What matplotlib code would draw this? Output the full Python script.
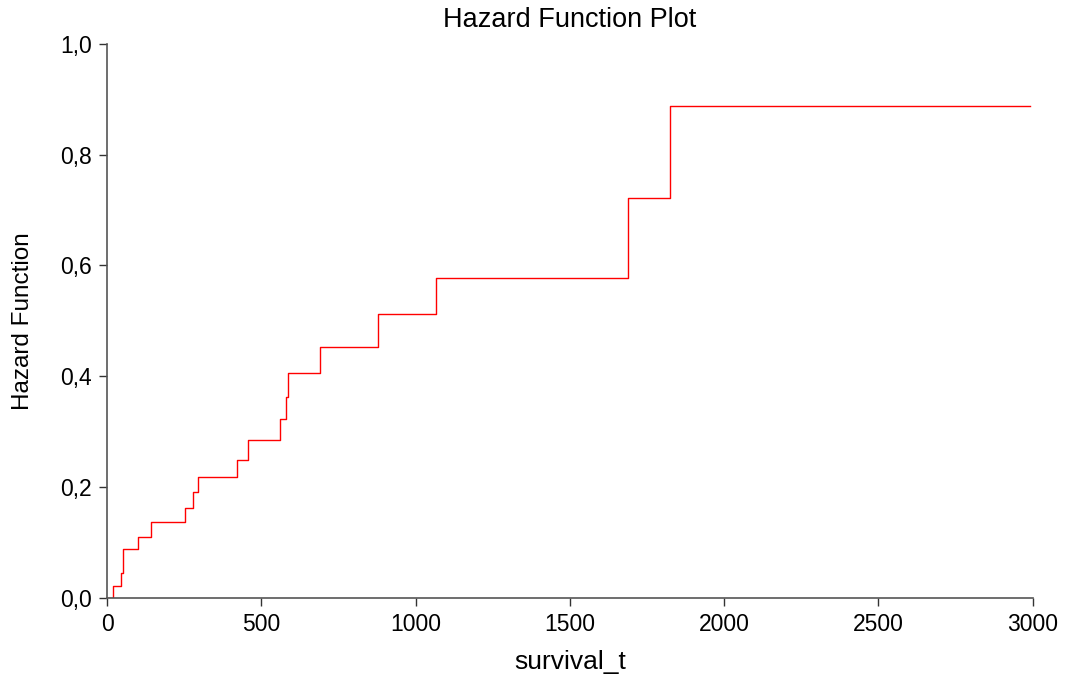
import matplotlib.pyplot as plt
from matplotlib.ticker import FuncFormatter

# step times and cumulative hazard
times = [0, 18, 45, 51, 99, 143, 253, 280, 295, 420, 456, 561, 580, 585,
         689, 877, 1066, 1690, 1826, 2993]
hazard = [0.0, 0.021, 0.044, 0.088, 0.109, 0.136, 0.161, 0.190, 0.217, 0.249,
          0.285, 0.323, 0.363, 0.405, 0.452, 0.512, 0.577, 0.722, 0.888, 0.888]
xticks = [0, 500, 1000, 1500, 2000, 2500, 3000]
yticks = [0.0, 0.2, 0.4, 0.6, 0.8, 1.0]

plt.rcParams['font.family'] = ['Liberation Sans', 'DejaVu Sans']

fig = plt.figure(figsize=(10.67, 6.75), dpi=100)
ax = fig.add_axes([0.1003, 0.1148, 0.8675, 0.82])

ax.plot(times, hazard, drawstyle='steps-post', color='red', linewidth=1)

ax.set_xlim(0, 3000)
ax.set_ylim(0, 1.0)
ax.set_xticks(xticks)
ax.set_yticks(yticks)
ax.yaxis.set_major_formatter(FuncFormatter(lambda v, p: f"{v:.1f}".replace('.', ',')))

for side in ['top', 'right']:
    ax.spines[side].set_visible(False)
for side in ['left', 'bottom']:
    ax.spines[side].set_color('#555555')
    ax.spines[side].set_linewidth(1.2)
ax.tick_params(direction='out', length=6, width=1, color='#333333', labelsize=16.5, pad=5)

ax.set_xlabel('survival_t', fontsize=19, labelpad=10)
ax.set_ylabel('Hazard Function', fontsize=17.5, labelpad=19)
ax.set_title('Hazard Function Plot', fontsize=19.5, pad=12.5)

fig.savefig('out.png', dpi=100)
